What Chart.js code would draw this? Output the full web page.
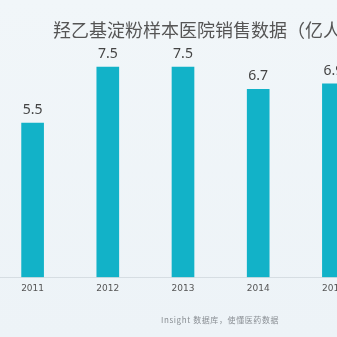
<!DOCTYPE html>
<html>
<head>
<meta charset="utf-8">
<script src="https://cdn.jsdelivr.net/npm/chart.js@4/dist/chart.umd.min.js"></script>
<style>
  html, body { margin: 0; padding: 0; }
  body {
    width: 337px; height: 337px; overflow: hidden; position: relative;
    background: linear-gradient(180deg, #f1f6f9 0%, #edf3f7 100%);
    font-family: "Noto Sans CJK SC", "Noto Sans", sans-serif;
  }
  #wrap { position: absolute; left: -5px; top: 0; width: 376px; height: 337px; }
  #title {
    position: absolute; left: 53px; top: 16px; white-space: nowrap;
    font-size: 18px; color: #555; letter-spacing: 0px;
  }
  #source {
    position: absolute; left: 161px; top: 314px; white-space: nowrap;
    font-size: 8px; color: #8a8f94; letter-spacing: 0.6px;
  }
</style>
</head>
<body>
<div id="wrap"><canvas id="chart" width="376" height="337"></canvas></div>
<div id="title">羟乙基淀粉样本医院销售数据（亿人民币）</div>
<div id="source">Insight 数据库，使懂医药数据</div>
<script>
const years = ["2011", "2012", "2013", "2014", "2015"];
const sales = [5.5, 7.5, 7.5, 6.7, 6.9];

const BAR_COLOR = "#12b2c8";

// draws the value above each bar
const valueLabels = {
  id: "valueLabels",
  afterDatasetsDraw(chart) {
    const ctx = chart.ctx;
    const meta = chart.getDatasetMeta(0);
    ctx.save();
    ctx.font = '14px "Noto Sans", sans-serif';
    ctx.fillStyle = "#444";
    ctx.textAlign = "center";
    ctx.textBaseline = "bottom";
    meta.data.forEach((bar, i) => {
      ctx.fillText(sales[i].toFixed(1), bar.x, bar.y - 6);
    });
    ctx.restore();
  },
};

new Chart(document.getElementById("chart"), {
  type: "bar",
  data: {
    labels: years,
    datasets: [{ data: sales, backgroundColor: BAR_COLOR, barThickness: 22 }],
  },
  options: {
    responsive: false,
    animation: false,
    layout: { padding: { top: 25, bottom: 37, left: 0, right: 0 } },
    plugins: { legend: { display: false }, tooltip: { enabled: false } },
    scales: {
      x: {
        grid: { display: false, drawTicks: false },
        border: { display: true, color: "#d6dde2", width: 1 },
        ticks: { color: "#555", font: { size: 9, family: '"DejaVu Sans", sans-serif' }, padding: 6 },
      },
      y: { display: false, min: 0, max: 9 },
    },
  },
  plugins: [valueLabels],
});
</script>
</body>
</html>
